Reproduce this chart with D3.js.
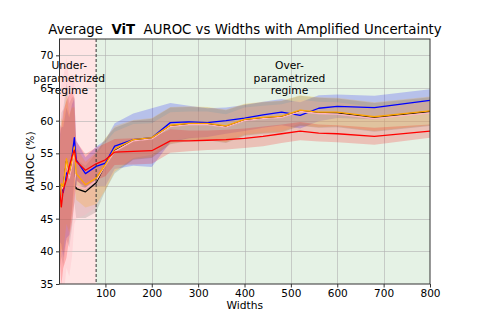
<!DOCTYPE html>
<html>
<head>
<meta charset="utf-8">
<script src="https://cdn.jsdelivr.net/npm/d3@7"></script>
<style>
  body { margin: 0; background: #fff; }
  svg { font-family: "DejaVu Sans", sans-serif; }
</style>
</head>
<body>
<svg id="chart" width="478" height="319"></svg>
<script>
// widths on the x axis
var widths = [1, 5, 9, 16, 22, 28, 33, 37, 57, 80, 100, 120, 160, 200, 240, 280, 320, 360, 400, 440, 480, 520, 560, 600, 680, 800];

// mean AUROC per series
var blueMean   = [49.5, 50.1, 49.0, 52.0, 51.5, 54.5, 57.4, 54.0, 51.9, 53.0, 53.5, 56.1, 57.1, 57.4, 59.7, 59.8, 59.7, 60.0, 60.4, 60.9, 61.3, 60.8, 61.9, 62.2, 62.0, 63.1];
var blackMean  = [46.8, 50.2, 49.8, 53.8, 51.6, 53.6, 55.5, 49.6, 49.1, 50.5, 53.3, 55.4, 57.0, 57.3, 59.2, 59.5, 59.5, 59.1, 60.1, 60.4, 60.6, 61.5, 61.2, 61.2, 60.5, 61.4];
var pinkMean   = [47.0, 50.0, 49.5, 53.5, 51.2, 53.2, 55.2, 50.0, 49.6, 50.8, 53.2, 55.3, 56.9, 57.2, 59.1, 59.4, 59.4, 59.0, 60.0, 60.3, 60.5, 61.4, 61.1, 61.0, 60.3, 61.2];
var orangeMean = [46.6, 50.4, 49.9, 54.2, 51.9, 54.0, 56.0, 51.9, 50.2, 51.2, 53.3, 55.7, 57.1, 57.4, 59.3, 59.6, 59.6, 59.2, 60.2, 60.5, 60.7, 61.6, 61.3, 61.3, 60.6, 61.5];
var redMean    = [49.6, 46.8, 49.4, 51.0, 53.0, 54.5, 55.5, 53.8, 52.4, 53.4, 54.0, 55.2, 55.3, 55.4, 56.9, 56.9, 57.0, 57.1, 57.3, 57.6, 58.0, 58.4, 58.1, 58.0, 57.6, 58.4];

// amplified spread per series
var blueStd   = [8, 9, 10, 10, 9, 8, 6, 3, 2.5, 3, 3.5, 3.5, 4, 4.5, 3, 2.5, 2.2, 2, 2, 2, 2, 2, 2, 1.8, 1.8, 1.7];
var blackStd  = [10, 11, 12, 12, 11, 10, 8, 4.5, 4, 4.5, 4, 3.5, 3, 3, 2.8, 2.6, 2.5, 2.5, 2.4, 2.4, 2.4, 2.3, 2.3, 2.2, 2.2, 2.2];
var pinkStd   = [13, 16, 17, 16, 15, 14, 11, 5, 4, 4, 3.5, 3, 2.6, 2.4, 2.2, 2, 2, 2, 2, 2, 2, 1.8, 1.8, 1.8, 1.8, 1.8];
var orangeStd = [9, 10, 10, 10, 9, 8, 6, 4, 3.5, 4, 4, 3.5, 3, 3, 2.8, 2.6, 2.5, 2.5, 2.4, 2.4, 2.4, 2.3, 2.3, 2.2, 2.2, 2.2];
var redStd    = [10, 12, 12, 12, 11, 10, 8, 3, 2.5, 2.5, 2.5, 2, 2, 2, 1.8, 1.6, 1.5, 1.5, 1.5, 1.5, 1.4, 1.4, 1.3, 1.3, 1.3, 1.0];

var xTicks = [100, 200, 300, 400, 500, 600, 700, 800];
var yTicks = [35, 40, 45, 50, 55, 60, 65, 70];
var splitWidth = 80;

var series = [
    {name: 'blue',   color: '#0000ff', band: 'rgba(0,0,255,0.2)',     mean: blueMean,   std: blueStd},
    {name: 'black',  color: '#000000', band: 'rgba(0,0,0,0.12)',      mean: blackMean,  std: blackStd},
    {name: 'pink',   color: '#ffb6c1', band: 'rgba(255,182,193,0.3)', mean: pinkMean,   std: pinkStd},
    {name: 'orange', color: '#ffa500', band: 'rgba(255,165,0,0.2)',   mean: orangeMean, std: orangeStd},
    {name: 'red',    color: '#ff0000', band: 'rgba(255,0,0,0.2)',     mean: redMean,    std: redStd}
];

var svg = d3.select('#chart');
var pLeft = 59.5, pRight = 430, pTop = 39, pBottom = 284;

var x = d3.scaleLinear().domain([1, 800]).range([pLeft, pRight]);
var y = d3.scaleLinear().domain([35, 72.5]).range([pBottom, pTop]);

svg.append('rect').attr('width', 478).attr('height', 319).attr('fill', '#fff');

var defs = svg.append('defs');
defs.append('clipPath').attr('id', 'plotclip')
  .append('rect')
    .attr('x', pLeft).attr('y', pTop)
    .attr('width', pRight - pLeft).attr('height', pBottom - pTop);

var plot = svg.append('g').attr('clip-path', 'url(#plotclip)');

// regime spans
plot.append('rect')
    .attr('x', x(1)).attr('y', pTop)
    .attr('width', x(splitWidth) - x(1)).attr('height', pBottom - pTop)
    .attr('fill', 'rgba(255,0,0,0.1)');
plot.append('rect')
    .attr('x', x(splitWidth)).attr('y', pTop)
    .attr('width', x(800) - x(splitWidth)).attr('height', pBottom - pTop)
    .attr('fill', 'rgba(0,128,0,0.1)');

// grid
plot.selectAll('.gx').data(xTicks).enter().append('line')
    .attr('x1', function(d) { return Math.round(x(d)) + 0.5; })
    .attr('x2', function(d) { return Math.round(x(d)) + 0.5; })
    .attr('y1', pTop).attr('y2', pBottom)
    .attr('stroke', '#b0b0b0').attr('stroke-opacity', 0.6).attr('stroke-width', 1);
plot.selectAll('.gy').data(yTicks).enter().append('line')
    .attr('y1', function(d) { return Math.round(y(d)) + 0.5; })
    .attr('y2', function(d) { return Math.round(y(d)) + 0.5; })
    .attr('x1', pLeft).attr('x2', pRight)
    .attr('stroke', '#b0b0b0').attr('stroke-opacity', 0.6).attr('stroke-width', 1);

// bands
series.forEach(function(s) {
    var area = d3.area()
        .x(function(d, i) { return x(widths[i]); })
        .y0(function(d, i) { return y(d - s.std[i]); })
        .y1(function(d, i) { return y(d + s.std[i]); });
    plot.append('path')
        .datum(s.mean)
        .attr('d', area)
        .attr('fill', s.band);
});

// mean lines
series.forEach(function(s) {
    var line = d3.line()
        .x(function(d, i) { return x(widths[i]); })
        .y(function(d) { return y(d); });
    plot.append('path')
        .datum(s.mean)
        .attr('d', line)
        .attr('fill', 'none')
        .attr('stroke', s.color)
        .attr('stroke-width', 1.3)
        .attr('stroke-linejoin', 'round');
});

// split line
plot.append('line')
    .attr('x1', x(splitWidth)).attr('x2', x(splitWidth))
    .attr('y1', pTop).attr('y2', pBottom)
    .attr('stroke', '#333').attr('stroke-width', 1)
    .attr('stroke-dasharray', '3,2');

// regime labels
function regimeLabel(cx, lines) {
    var t = svg.append('text')
        .attr('text-anchor', 'middle')
        .attr('font-size', '10.7px')
        .attr('fill', '#000');
    lines.forEach(function(l, i) {
        t.append('tspan')
            .attr('x', x(cx))
            .attr('y', y(66.6) + (i - 1) * 12.6 + 4)
            .text(l);
    });
}
regimeLabel(22, ['Under-', 'parametrized', 'regime']);
regimeLabel(497, ['Over-', 'parametrized', 'regime']);

// axes
var xAxis = svg.append('g')
    .attr('transform', 'translate(0,' + pBottom + ')')
    .call(d3.axisBottom(x).tickValues(xTicks).tickSize(3.5).tickPadding(2.5));
var yAxis = svg.append('g')
    .attr('transform', 'translate(' + pLeft + ',0)')
    .call(d3.axisLeft(y).tickValues(yTicks).tickSize(3.5).tickPadding(2.5));
[xAxis, yAxis].forEach(function(a) {
    a.select('.domain').remove();
    a.selectAll('text').attr('font-size', '10.5px').attr('fill', '#000')
        .attr('font-family', '"DejaVu Sans", sans-serif');
    a.selectAll('line').attr('stroke', '#000').attr('stroke-width', 0.8);
});

// frame
svg.append('rect')
    .attr('x', pLeft).attr('y', pTop)
    .attr('width', pRight - pLeft).attr('height', pBottom - pTop)
    .attr('fill', 'none').attr('stroke', '#333').attr('stroke-width', 1);

// axis labels
svg.append('text')
    .attr('x', (pLeft + pRight) / 2).attr('y', 309)
    .attr('text-anchor', 'middle')
    .attr('font-size', '10.7px')
    .text('Widths');
svg.append('text')
    .attr('transform', 'translate(34,' + ((pTop + pBottom) / 2) + ')rotate(-90)')
    .attr('text-anchor', 'middle')
    .attr('font-size', '10.7px')
    .text('AUROC (%)');

// title
var title = svg.append('text')
    .attr('x', 245).attr('y', 33.5)
    .attr('text-anchor', 'middle')
    .attr('font-size', '13.3px')
    .style('white-space', 'pre');
title.append('tspan').text('Average  ');
title.append('tspan').attr('font-weight', 'bold').text('ViT');
title.append('tspan').text('  AUROC vs Widths with Amplified Uncertainty');
</script>
</body>
</html>
